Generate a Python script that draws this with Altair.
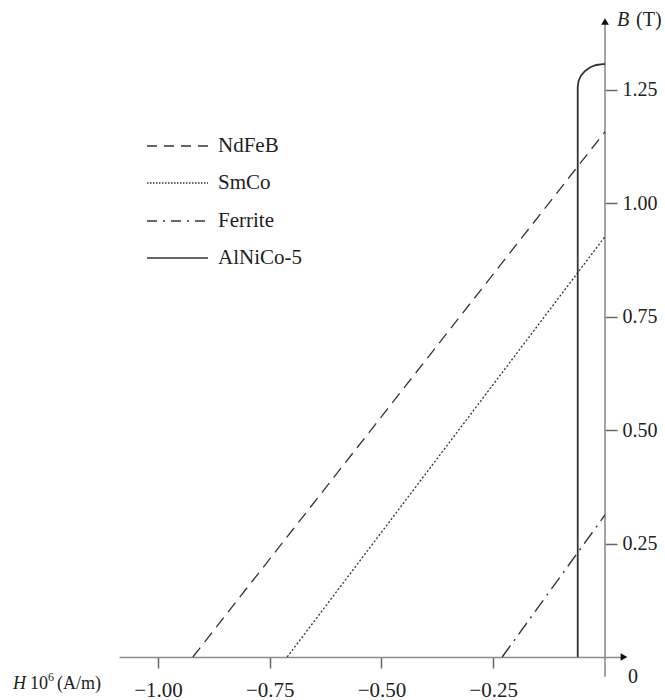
import altair as alt
import pandas as pd

# ---------------- data ----------------
series_names = ["NdFeB", "SmCo", "Ferrite", "AlNiCo-5"]

ndfeb_H = [-0.922, 0.0]
ndfeb_B = [0.0, 1.157]

smco_H = [-0.711, 0.0]
smco_B = [0.0, 0.926]

ferrite_H = [-0.230, 0.0]
ferrite_B = [0.0, 0.313]

alnico_H = [-0.061, -0.061, -0.0591, -0.0535, -0.0446, -0.033, -0.0195, -0.005, 0.0]
alnico_B = [0.0, 1.256, 1.269, 1.281, 1.291, 1.299, 1.304, 1.306, 1.306]

x_ticks = [-1.00, -0.75, -0.50, -0.25]
y_ticks = [0.25, 0.50, 0.75, 1.00, 1.25]

# axis decorations (in data units)
yline_H = [0.0]
yline_B = [-0.0434]
yline_B2 = [1.3943]
arrow_up_H = [0.0]
arrow_up_B = [1.3998]
arrow_right_H = [0.0425]
arrow_right_B = [0.0]

# ---------------- layout ----------------
PAD_L, PAD_T, PAD_R, PAD_B = 119, 24, 44, 43
W, H = 502, 633
X_DOMAIN = [-1.0872, 0.0358]
Y_DOMAIN = [0.0, 1.3943]

FONT = "Liberation Serif, Times New Roman, serif"
AXIS_GRAY = "#8c8c8c"
INK = "#333333"

xscale = alt.Scale(domain=X_DOMAIN, nice=False, zero=False)
yscale = alt.Scale(domain=Y_DOMAIN, nice=False, zero=False)

xaxis = alt.Axis(
    values=x_ticks, format=".2f", title=None, grid=False,
    domain=True, domainColor=AXIS_GRAY, domainWidth=1.6,
    ticks=True, tickColor="#666666", tickWidth=1.5, tickSize=11,
    labelFont=FONT, labelFontSize=21, labelColor="#222222", labelPadding=11,
    labelFlush=False, labelOverlap=False,
)
yaxis = alt.Axis(
    orient="right", offset=-16, values=y_ticks, format=".2f", title=None,
    grid=False, domain=False,
    ticks=True, tickColor="#666666", tickWidth=1.5, tickSize=12,
    labelFont=FONT, labelFontSize=20, labelColor="#222222", labelPadding=5,
    labelFlush=False, labelOverlap=False,
)


def ex(field="H"):
    return alt.X(field, type="quantitative", scale=xscale, axis=xaxis)


def ey(field="B"):
    return alt.Y(field, type="quantitative", scale=yscale, axis=yaxis)


series_data = {
    "NdFeB": (ndfeb_H, ndfeb_B),
    "SmCo": (smco_H, smco_B),
    "Ferrite": (ferrite_H, ferrite_B),
    "AlNiCo-5": (alnico_H, alnico_B),
}
styles = {
    "NdFeB": dict(strokeDash=[12, 7], strokeWidth=1.3),
    "SmCo": dict(strokeDash=[2, 2], strokeWidth=1.3),
    "Ferrite": dict(strokeDash=[14, 6, 2, 6], strokeWidth=1.4),
    "AlNiCo-5": dict(strokeWidth=1.8),
}
legend_styles = {
    "NdFeB": [10, 7],
    "SmCo": [1.5, 1.5],
    "Ferrite": [10, 6, 2, 6],
    "AlNiCo-5": None,
}
legend_rows_y = [122, 159, 197, 234]  # pixel rows inside plot area

layers = []

# y axis line (extends slightly below the x axis)
yline_df = pd.DataFrame({"H": yline_H, "B": yline_B, "B2": yline_B2})
layers.append(
    alt.Chart(yline_df).mark_rule(color=AXIS_GRAY, strokeWidth=1.6).encode(
        x=ex(), y=ey(), y2=alt.Y2("B2")
    )
)

# data lines
for name in series_names:
    hs, bs = series_data[name]
    df = pd.DataFrame({"H": hs, "B": bs, "i": list(range(len(hs))), "series": name})
    layers.append(
        alt.Chart(df).mark_line(color=INK, **styles[name]).encode(
            x=ex(), y=ey(), order=alt.Order("i:Q")
        )
    )

# arrows
up_df = pd.DataFrame({"H": arrow_up_H, "B": arrow_up_B})
layers.append(
    alt.Chart(up_df).mark_point(shape="triangle-up", filled=True, size=60,
                                color="#111111", opacity=1).encode(x=ex(), y=ey())
)
right_df = pd.DataFrame({"H": arrow_right_H, "B": arrow_right_B})
layers.append(
    alt.Chart(right_df).mark_point(shape="triangle-right", filled=True, size=60,
                                   color="#111111", opacity=1).encode(x=ex(), y=ey())
)

# legend
for name, py in zip(series_names, legend_rows_y):
    one = pd.DataFrame({"label": [name]})
    rule_kw = dict(color=INK, strokeWidth=1.3)
    if legend_styles[name] is not None:
        rule_kw["strokeDash"] = legend_styles[name]
    layers.append(
        alt.Chart(one).mark_rule(**rule_kw).encode(
            x=alt.value(28), x2=alt.value(89), y=alt.value(py)
        )
    )
    layers.append(
        alt.Chart(one).mark_text(font=FONT, fontSize=21, align="left",
                                 baseline="middle", color="#222222").encode(
            x=alt.value(99), y=alt.value(py), text="label:N"
        )
    )

# axis titles / annotations: (text, px, py, size, italic, baseline)
annotations = [
    ("B", 498, -4, 20, True, "middle"),
    ("(T)", 517, -4, 20, False, "middle"),
    ("H", -106, 665, 18, True, "alphabetic"),
    ("10", -89, 665, 18, False, "alphabetic"),
    ("6", -71, 657, 12, False, "alphabetic"),
    ("(A/m)", -62, 665, 18, False, "alphabetic"),
    ("0", 514, 659, 20, False, "alphabetic"),
]
for txt, px, py, sz, ital, base in annotations:
    one = pd.DataFrame({"label": [txt]})
    kw = dict(font=FONT, fontSize=sz, align="left" if txt != "0" else "center",
              baseline=base, color="#222222")
    if ital:
        kw["fontStyle"] = "italic"
    layers.append(
        alt.Chart(one).mark_text(**kw).encode(
            x=alt.value(px), y=alt.value(py), text="label:N"
        )
    )

chart = (
    alt.layer(*layers)
    .properties(
        width=W, height=H,
        autosize=alt.AutoSizeParams(type="none"),
        padding={"left": PAD_L, "top": PAD_T, "right": PAD_R, "bottom": PAD_B},
        background="white",
    )
    .configure_view(strokeWidth=0)
)

chart.save("out.html", embed_options={"renderer": "svg", "actions": False})
